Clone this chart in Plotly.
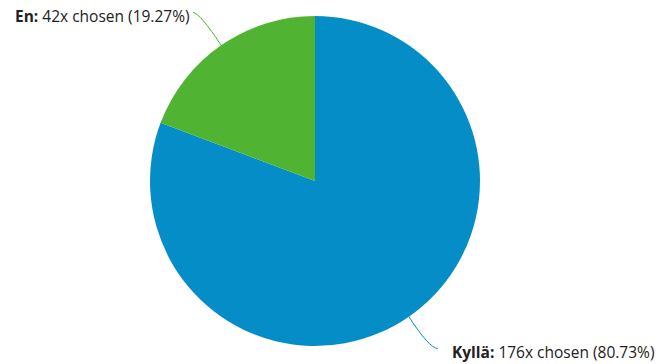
import math
import plotly.graph_objects as go

labels = ["Kyllä", "En"]
counts = [176, 42]
colors = ["#058DC7", "#50B432"]

W, H = 659, 364
cx, cy, R = 315, 181, 165  # pie centre and radius in pixels

fig = go.Figure()
fig.add_trace(go.Pie(
    labels=labels, values=counts, sort=False, direction="clockwise", rotation=0,
    marker=dict(colors=colors, line=dict(width=0)),
    textinfo="none", hoverinfo="label+value+percent", showlegend=False,
    domain=dict(x=[(cx - R) / W, (cx + R) / W], y=[(H - cy - R) / H, (H - cy + R) / H]),
))

# hidden pixel-space axes used for the label connectors
fig.update_layout(
    xaxis=dict(range=[0, W], visible=False, fixedrange=True),
    yaxis=dict(range=[H, 0], visible=False, fixedrange=True),
)

total = sum(counts)
start = 0.0
shapes, annotations = [], []
for lab, n, col in zip(labels, counts, colors):
    frac = n / total
    mid = (start + frac / 2) * 2 * math.pi  # clockwise from 12 o'clock
    start += frac
    sx, sy = math.sin(mid), -math.cos(mid)
    ex, ey = cx + R * sx, cy + R * sy
    right = sx > 0
    lx = ex + (29 if right else -28)
    ly = ey + (32 if sy > 0 else -33)
    ctrl_x = lx - 9 if right else lx + 7
    ctrl_y = ly - 1 if sy > 0 else ly + 1
    shapes.append(dict(type="path", xref="x", yref="y",
                       path=f"M {ex:.1f} {ey:.1f} Q {ctrl_x:.1f} {ctrl_y:.1f} {lx:.1f} {ly:.1f}",
                       line=dict(color=col, width=1)))
    text = f"<b>{lab}:</b> {n}x chosen ({frac * 100:.2f}%)"
    annotations.append(dict(
        x=lx + (12 if right else -1), y=ly + (3 if right else 4), xref="x", yref="y",
        text=text, showarrow=False,
        xanchor="left" if right else "right", yanchor="middle",
        font=dict(family="Open Sans", size=15.5, color="#222222"),
    ))

fig.update_layout(
    width=W, height=H, margin=dict(l=0, r=0, t=0, b=0),
    paper_bgcolor="white", plot_bgcolor="white",
    shapes=shapes, annotations=annotations,
)

fig.write_html("out.html")
